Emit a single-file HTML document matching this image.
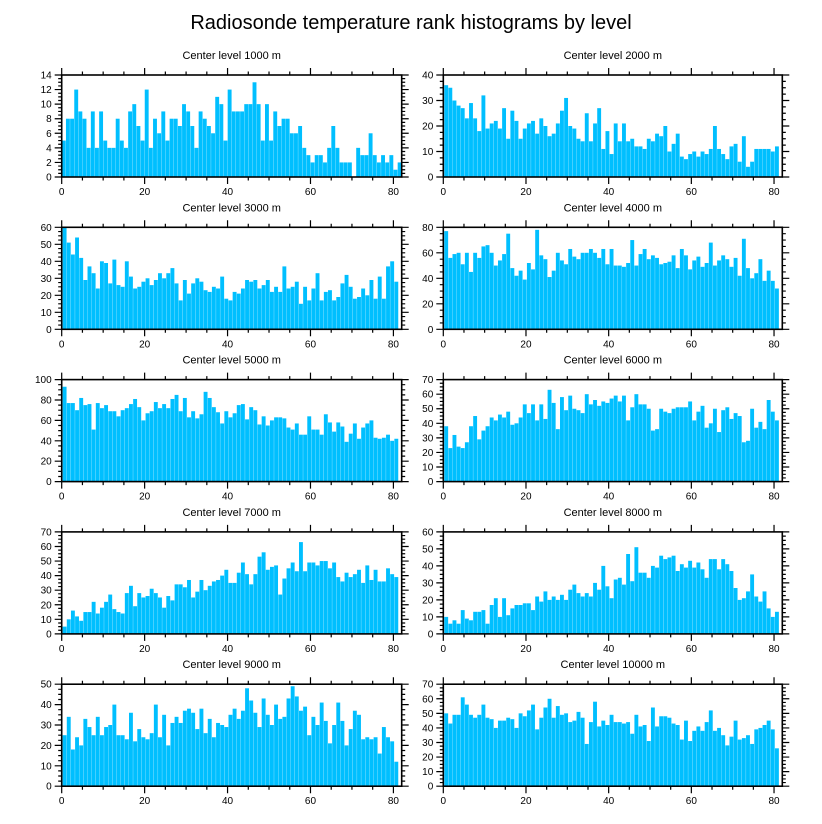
<!DOCTYPE html>
<html><head><meta charset="utf-8"><style>
html,body{margin:0;padding:0;background:#fff}
svg{display:block;font-family:"Liberation Sans",sans-serif}
</style></head><body>
<svg id="chart" width="822" height="824" viewBox="0 0 822 824">
<text x="411" y="29" text-anchor="middle" font-size="20">Radiosonde temperature rank histograms by level</text>
</svg>
<script>
const levels = ["1000","2000","3000","4000","5000","6000","7000","8000","9000","10000"];
const yMaxes = [14,40,60,80,100,70,70,60,50,70];
const ySteps = [2,10,10,20,20,10,10,10,10,10];
const xTickLabels = [0,20,40,60,80];
const level1000 = [5,8,8,12,9,8,4,9,4,9,5,4,4,8,5,4,9,10,7,5,12,4,8,6,9,5,8,8,7,10,9,7,4,9,8,7,6,11,10,5,12,9,9,9,10,10,13,10,5,10,5,9,7,8,8,6,6,7,4,3,2,3,3,2,4,7,4,2,2,2,0,4,3,3,6,3,2,3,2,3,1,2];
const level2000 = [36,35,30,28,27,23,29,23,18,32,19,21,22,19,27,15,26,22,15,19,21,22,17,23,20,16,17,21,26,31,20,19,15,14,25,14,21,27,11,18,9,21,14,21,14,15,12,12,11,15,14,17,16,20,10,13,17,8,7,9,10,8,10,9,11,20,11,9,7,12,13,6,16,4,6,11,11,11,11,10,12];
const level3000 = [60,51,44,54,42,29,37,33,24,40,39,27,41,26,25,40,31,24,25,28,30,26,29,33,30,33,36,27,17,29,21,27,30,28,23,22,25,24,31,18,17,22,21,24,29,28,29,24,26,29,22,25,22,37,24,25,28,15,25,17,24,33,17,22,23,17,19,27,32,25,18,19,24,20,29,18,31,18,37,40,28];
const level4000 = [77,56,59,60,51,60,45,60,56,65,66,60,50,54,59,75,48,42,46,39,52,47,78,58,55,41,46,60,54,51,63,57,55,60,60,63,60,56,63,51,63,50,50,49,52,70,50,59,63,55,58,56,51,52,53,58,48,63,58,47,54,57,49,52,68,50,54,58,55,49,56,42,71,48,40,44,55,38,46,38,32];
const level5000 = [93,77,77,70,82,75,76,51,77,72,75,69,69,64,70,72,76,81,73,60,67,69,78,72,76,72,81,85,69,82,63,69,62,66,88,82,73,68,57,69,63,67,75,76,61,73,70,56,64,55,60,63,63,62,53,51,57,46,46,64,51,51,46,66,58,49,58,54,39,47,57,42,53,57,60,43,42,43,46,40,42];
const level6000 = [38,23,32,24,23,27,38,45,29,35,38,44,42,46,44,48,39,40,44,53,47,53,42,53,43,63,54,36,58,49,59,50,49,47,60,53,56,52,55,54,57,59,55,59,42,51,60,53,53,50,35,36,50,48,47,50,51,51,51,55,42,48,52,37,40,50,34,49,51,43,47,45,27,28,50,37,41,36,56,48,42];
const level7000 = [5,10,16,12,9,15,15,22,14,18,22,27,17,15,14,28,33,19,28,25,26,31,28,25,18,26,23,34,34,32,37,25,29,37,30,33,36,37,40,44,35,35,42,49,41,34,41,53,56,44,46,47,27,38,45,49,43,63,43,49,49,47,50,50,45,49,39,36,42,39,41,44,35,47,37,44,36,36,45,41,39];
const level8000 = [10,6,8,6,14,9,8,13,13,14,6,17,21,10,21,11,15,17,17,18,18,14,22,19,25,20,22,20,23,20,26,29,24,22,24,22,30,26,40,28,21,32,33,29,47,31,51,36,36,33,40,39,46,44,45,46,37,41,39,43,39,42,38,33,44,44,38,44,41,37,27,20,21,25,35,22,19,25,15,10,13];
const level9000 = [25,34,18,24,20,33,29,25,34,25,29,30,40,25,25,23,36,22,28,24,23,26,40,24,35,20,31,34,31,37,38,36,28,38,26,33,24,31,30,29,35,38,33,37,48,42,36,29,43,35,30,40,33,34,43,49,44,37,39,25,34,30,41,32,21,30,41,32,20,28,37,35,23,24,23,24,16,29,24,22,12];
const level10000 = [50,43,49,49,61,56,49,47,49,56,47,46,40,45,45,47,46,40,50,48,52,56,39,47,54,60,47,55,49,50,44,45,51,47,29,44,58,41,45,42,49,44,44,43,44,36,49,41,42,31,54,41,48,48,47,43,42,32,45,31,38,41,38,44,52,38,40,35,28,34,45,32,33,35,29,39,40,42,45,39,26];
const seriesList = [level1000,level2000,level3000,level4000,level5000,level6000,level7000,level8000,level9000,level10000];

const NS = "http://www.w3.org/2000/svg";
const svg = document.getElementById("chart");
function mk(tag, attrs, parent){
  const e = document.createElementNS(NS, tag);
  for (const k in attrs) e.setAttribute(k, attrs[k]);
  parent.appendChild(e);
  return e;
}
const XMAX = 82;
for (let p = 0; p < 10; p++) {
  const col = p % 2, row = Math.floor(p / 2);
  const L = col ? 443.3 : 61.7, R = col ? 782.3 : 401.7;
  const T = 75 + row * 152.3, B = T + 102;
  const data = seriesList[p], ymax = yMaxes[p], ystep = ySteps[p];
  const xs = v => L + (v / XMAX) * (R - L);
  const ys = v => B - (v / ymax) * (B - T);
  const g = mk("g", {}, svg);
  
  
  const t = mk("text", {x:(L+R)/2, y:T-16, "text-anchor":"middle", "font-size":"11"}, g);
  t.textContent = "Center level " + levels[p] + " m";
  
  
  const n = data.length;
  const off = n >= 82 ? 0 : 0.2;
  for (let i = 0; i < n; i++) {
    const x0 = xs(i + off + 0.03), x1 = xs(i + off + 0.97);
    const y0 = ys(data[i]);
    const r = mk("rect", {x:x0, y:y0, width:Math.max(0, x1 - x0), height:Math.max(0, B - y0), fill:"#00bfff"}, g);
    
    
  }
  let d = "";
  for (let v = 0; v <= XMAX; v += 5) {
    const x = xs(v), len = (v % 20 === 0) ? 7 : 3.5;
    d += `M${x},${T}v${-len}M${x},${B}v${len}`;
  }
  const minorY = ystep / 4;
  for (let k = 0; k * minorY <= ymax + 1e-9; k++) {
    const v = k * minorY, y = ys(v), len = (k % 4 === 0) ? 7 : 3.5;
    d += `M${L},${y}h${-len}M${R},${y}h${len}`;
  }
  const tk = mk("path", {d:d, stroke:"#000", "stroke-width":"1.2", fill:"none"}, g);
  
  
  const box = mk("rect", {x:L, y:T, width:R-L, height:B-T, fill:"none", stroke:"#000", "stroke-width":"1.6"}, g);
  
  
  for (const v of xTickLabels) {
    const tx = mk("text", {x:xs(v), y:B+18, "text-anchor":"middle", "font-size":"10"}, g);
    tx.textContent = v;
    
    
  }
  for (let v = 0; v <= ymax; v += ystep) {
    const ty = mk("text", {x:L-10, y:ys(v)+3.5, "text-anchor":"end", "font-size":"10"}, g);
    ty.textContent = v;
    
    
  }
}
</script>
</body></html>
